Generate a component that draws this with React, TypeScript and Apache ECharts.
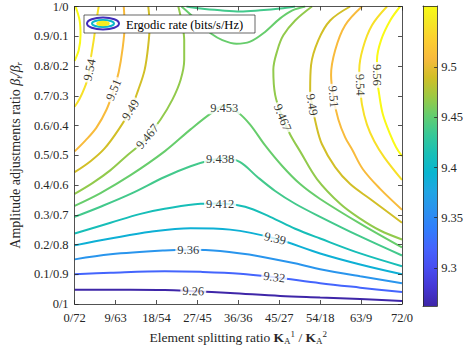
import React, { useEffect, useRef } from 'react';
import * as echarts from 'echarts';

// ---------- data (x = K_A^1 in 0..72, K_A^2 = 72 - x ; y = beta_t in 0..1) ----------
const xTicks = [0, 9, 18, 27, 36, 45, 54, 63, 72];
const yTicks = [0, 0.1, 0.2, 0.3, 0.4, 0.5, 0.6, 0.7, 0.8, 0.9, 1];
const colorbarTicks = [9.3, 9.35, 9.4, 9.45, 9.5];
const colorRange = [9.262, 9.561];

const c926 = [[0, 0.048], [12.3, 0.048], [19.8, 0.047], [26.1, 0.043], [34.2, 0.037], [45.2, 0.027], [54, 0.022], [62.8, 0.017], [72, 0.01]];
const c932 = [[0, 0.1], [7.9, 0.105], [19.8, 0.11], [27.7, 0.108], [36.4, 0.102], [43.9, 0.09], [54, 0.07], [62.8, 0.055], [72, 0.04]];
const c936 = [[0, 0.15], [7.9, 0.167], [19.8, 0.18], [25, 0.182], [32, 0.178], [40.8, 0.16], [49.6, 0.133], [54, 0.117], [62.8, 0.093], [72, 0.07]];
const c939 = [[0, 0.197], [7.9, 0.22], [16.7, 0.243], [25.5, 0.255], [34.2, 0.25], [44.1, 0.22], [54, 0.17], [62.8, 0.133], [72, 0.1]];
const c9412 = [[0, 0.237], [7.9, 0.273], [14.5, 0.303], [19.8, 0.32], [27.7, 0.337], [32, 0.338], [37.5, 0.327], [43, 0.293], [48.5, 0.253], [54, 0.22], [62.8, 0.17], [72, 0.127]];
const c9438 = [[0, 0.293], [5.7, 0.327], [12.3, 0.37], [19.8, 0.427], [25.5, 0.463], [29.9, 0.483], [32.9, 0.49], [36.4, 0.477], [40.2, 0.427], [44.1, 0.38], [48.5, 0.337], [54, 0.293], [62.8, 0.227], [72, 0.163]];
const c9438top = [[24.6, 1], [27.7, 0.993], [32, 0.987], [36.4, 0.983], [40.8, 0.987], [45.2, 0.993], [48.5, 1]];
const c9453 = [[0, 0.33], [5.7, 0.373], [12.3, 0.433], [19.8, 0.513], [25.5, 0.587], [29.9, 0.64], [32.9, 0.667], [36, 0.643], [38.6, 0.603], [41.9, 0.533], [45.7, 0.463], [49.6, 0.403], [54, 0.353], [62.8, 0.27], [72, 0.19]];
const c9453top = [[23.5, 1], [25.5, 0.973], [27.7, 0.94], [29.9, 0.91], [32.5, 0.887], [35.6, 0.875], [38.6, 0.882], [41.5, 0.91], [45.2, 0.96], [47.9, 0.987], [50.7, 1]];
const c9467L = [[0, 0.37], [4, 0.407], [7.9, 0.45], [11.6, 0.5], [14.5, 0.537], [16, 0.563], [18.9, 0.62], [21.5, 0.687], [23.3, 0.753], [24.1, 0.82], [24.1, 0.887], [23.5, 0.953], [22.8, 1]];
const c9467R = [[52.2, 1], [48.5, 0.953], [45.9, 0.903], [44.6, 0.853], [43.7, 0.787], [44.1, 0.703], [45.7, 0.627], [47.4, 0.57], [49.6, 0.513], [53.3, 0.42], [58.4, 0.337], [62.8, 0.287], [67.2, 0.247], [72, 0.217]];
const c949L = [[16.2, 1], [16.5, 0.937], [16.2, 0.87], [15.4, 0.787], [14, 0.72], [12.3, 0.653], [9.7, 0.587], [6.6, 0.523], [3.5, 0.48], [0, 0.443]];
const c949R = [[60.6, 1], [56.2, 0.953], [53.6, 0.887], [52, 0.803], [51.8, 0.72], [52.2, 0.67], [53.1, 0.603], [54.4, 0.537], [57.3, 0.46], [60.6, 0.403], [65, 0.353], [72, 0.273]];
const c951L = [[10.8, 1], [11, 0.937], [10.5, 0.853], [9.7, 0.78], [8.6, 0.72], [7, 0.653], [4.8, 0.593], [2.4, 0.55], [0, 0.513]];
const c951R = [[63.2, 1], [59.5, 0.937], [57.3, 0.853], [56.4, 0.77], [56.9, 0.697], [58, 0.62], [59.5, 0.56], [61, 0.52], [63.4, 0.453], [67.2, 0.387], [72, 0.317]];
const c954L = [[5.3, 1], [4.8, 0.953], [4.2, 0.887], [3.5, 0.82], [3.1, 0.77], [2.2, 0.727], [1.1, 0.69], [0, 0.663]];
const c954R = [[68.7, 1], [65.4, 0.937], [63.4, 0.86], [62.6, 0.787], [62.8, 0.737], [63.2, 0.67], [64.3, 0.603], [65.9, 0.547], [68.1, 0.493], [72, 0.417]];
const c956L = [[0.2, 1], [1.1, 0.953], [1.3, 0.903], [0.9, 0.853], [0, 0.817]];
const c956R = [[71.6, 1], [69.4, 0.953], [67.4, 0.887], [66.5, 0.82], [66.5, 0.77], [67, 0.703], [67.8, 0.637], [69.4, 0.57], [70.7, 0.527], [72, 0.497]];

const contourLevels = [9.26, 9.32, 9.36, 9.39, 9.412, 9.438, 9.438, 9.453, 9.453, 9.467, 9.467, 9.49, 9.49, 9.51, 9.51, 9.54, 9.54, 9.56, 9.56];
const contourLines = [c926, c932, c936, c939, c9412, c9438, c9438top, c9453, c9453top, c9467L, c9467R, c949L, c949R, c951L, c951R, c954L, c954R, c956L, c956R];

const labelTexts = ['9.26', '9.32', '9.36', '9.39', '9.412', '9.438', '9.453', '9.467', '9.49', '9.51', '9.54', '9.467', '9.49', '9.51', '9.54', '9.56'];
const labelPoints = [[26.1, 0.043], [43.9, 0.09], [25, 0.18], [44.1, 0.22], [32, 0.337], [32, 0.487], [32.9, 0.66], [16, 0.563], [12.3, 0.653], [8.6, 0.72], [3.3, 0.787], [45.7, 0.627], [52.2, 0.67], [56.9, 0.697], [62.8, 0.737], [66.5, 0.77]];
const labelAngles = [-2, -7, 0, -13, 0, 0, 0, 50, 58, 68, 78, -68, -80, -85, -88, -90];

// parula colormap (MATLAB), samples at t = (idx-1)/63
const parulaIdx = [1, 5, 9, 13, 17, 21, 25, 29, 33, 37, 41, 45, 49, 53, 57, 61, 64];
const parulaRGB = [
  [0.2422, 0.1504, 0.6603], [0.2706, 0.2147, 0.8364], [0.2813, 0.3006, 0.9414], [0.2699, 0.3892, 0.9906],
  [0.1963, 0.4847, 0.9892], [0.1687, 0.5703, 0.9359], [0.1248, 0.6459, 0.8883], [0.0297, 0.7082, 0.8163],
  [0.0964, 0.75, 0.712], [0.2161, 0.7843, 0.5923], [0.3909, 0.8029, 0.4354], [0.6174, 0.7876, 0.2612],
  [0.8203, 0.7498, 0.1535], [0.9728, 0.7298, 0.2394], [0.9892, 0.8136, 0.1885], [0.9597, 0.9135, 0.1423],
  [0.9769, 0.9839, 0.0805],
];

const FONT = "'Liberation Serif', 'DejaVu Serif', serif";
const AX = '#262626';

function rgbStr(c: number[]) {
  return `rgb(${Math.round(c[0] * 255)},${Math.round(c[1] * 255)},${Math.round(c[2] * 255)})`;
}
function parula(t: number) {
  const tt = Math.max(0, Math.min(1, t));
  const ts = parulaIdx.map((i) => (i - 1) / 63);
  for (let i = 0; i < ts.length - 1; i++) {
    if (tt <= ts[i + 1]) {
      const f = (tt - ts[i]) / (ts[i + 1] - ts[i]);
      const a = parulaRGB[i], b = parulaRGB[i + 1];
      return rgbStr([a[0] + (b[0] - a[0]) * f, a[1] + (b[1] - a[1]) * f, a[2] + (b[2] - a[2]) * f]);
    }
  }
  return rgbStr(parulaRGB[parulaRGB.length - 1]);
}
function levelColor(v: number) {
  return parula((v - colorRange[0]) / (colorRange[1] - colorRange[0]));
}

export default function App() {
  const ref = useRef<HTMLDivElement>(null);
  useEffect(() => {
    if (!ref.current) return;
    const chart = echarts.init(ref.current, undefined, { renderer: 'svg' });
    const ts = parulaIdx.map((i) => (i - 1) / 63);
    const stops = ts.map((t, i) => ({ offset: 1 - t, color: rgbStr(parulaRGB[i]) })).reverse();

    const lineSeries = contourLines.map((pts, i) => ({
      type: 'line',
      xAxisIndex: 0,
      yAxisIndex: 0,
      data: pts,
      smooth: 0.35,
      symbol: 'none',
      silent: true,
      lineStyle: { width: 2, color: levelColor(contourLevels[i]) },
      z: 3,
    }));

    const axLine = () => ({ show: true, onZero: false, lineStyle: { color: AX, width: 0.8 } });
    const axTick = () => ({ show: true, inside: true, length: 4, lineStyle: { color: AX, width: 0.8 } });

    chart.setOption({
      animation: false,
      backgroundColor: '#fff',
      grid: [
        { left: 74, right: 64, top: 6, bottom: 44 },
        { left: 423, right: 22, top: 6, bottom: 44 },
      ],
      xAxis: [
        {
          type: 'value', gridIndex: 0, min: xTicks[0], max: xTicks[xTicks.length - 1], interval: 9, position: 'bottom', z: 6,
          axisLine: axLine(), axisTick: axTick(), splitLine: { show: false },
          axisLabel: { fontFamily: FONT, fontSize: 12.5, color: AX, margin: 7, formatter: (v: number) => `${v}/${72 - v}` },
          name: 'Element splitting ratio {b|K}{sub|A}{sup|1} / {b|K}{sub|A}{sup|2}',
          nameLocation: 'middle', nameGap: 25,
          nameTextStyle: {
            fontFamily: FONT, fontSize: 13.5, color: AX,
            rich: {
              b: { fontFamily: FONT, fontSize: 13.5, fontWeight: 'bold', color: AX },
              sub: { fontFamily: FONT, fontSize: 9, color: AX, verticalAlign: 'bottom', padding: [7, 0, 0, 0] },
              sup: { fontFamily: FONT, fontSize: 9, color: AX, verticalAlign: 'top', padding: [0, 0, 7, 0] },
            },
          },
        },
        {
          type: 'value', gridIndex: 0, min: 0, max: 72, interval: 9, position: 'top', z: 6,
          axisLine: axLine(), axisTick: axTick(), splitLine: { show: false }, axisLabel: { show: false },
        },
        {
          type: 'category', gridIndex: 1, data: [''], position: 'bottom', z: 6,
          axisLine: axLine(), axisTick: { show: false }, axisLabel: { show: false },
        },
        {
          type: 'category', gridIndex: 1, data: [''], position: 'top', z: 6,
          axisLine: axLine(), axisTick: { show: false }, axisLabel: { show: false },
        },
      ],
      yAxis: [
        {
          type: 'value', gridIndex: 0, min: yTicks[0], max: yTicks[yTicks.length - 1], interval: 0.1, position: 'left', z: 6,
          axisLine: axLine(), axisTick: axTick(), splitLine: { show: false },
          axisLabel: {
            fontFamily: FONT, fontSize: 12.5, color: AX, margin: 6,
            formatter: (v: number) => `${Math.round(v * 10) / 10}/${Math.round((1 - v) * 10) / 10}`,
          },
          name: 'Amplitude adjustments ratio {i|β}{s|t}{i|/β}{s|r}',
          nameLocation: 'middle', nameGap: 44, nameRotate: 90,
          nameTextStyle: {
            fontFamily: FONT, fontSize: 14, color: AX,
            rich: {
              i: { fontFamily: FONT, fontSize: 14, fontStyle: 'italic', color: AX },
              s: { fontFamily: FONT, fontSize: 9, fontStyle: 'italic', color: AX, verticalAlign: 'bottom', padding: [7, 0, 0, 0] },
            },
          },
        },
        {
          type: 'value', gridIndex: 0, min: 0, max: 1, interval: 0.1, position: 'right', z: 6,
          axisLine: axLine(), axisTick: axTick(), splitLine: { show: false }, axisLabel: { show: false },
        },
        {
          type: 'value', gridIndex: 1, min: colorRange[0], max: colorRange[1], position: 'right', z: 6,
          axisLine: axLine(),
          axisTick: { show: true, inside: true, length: 3, customValues: colorbarTicks, lineStyle: { color: AX, width: 0.8 } },
          axisLabel: { show: true, customValues: colorbarTicks, fontFamily: FONT, fontSize: 12.5, color: AX, margin: 4, formatter: (v: number) => `${v}` },
          splitLine: { show: false },
        },
        {
          type: 'value', gridIndex: 1, min: colorRange[0], max: colorRange[1], position: 'left', z: 6,
          axisLine: axLine(), axisTick: { show: false }, axisLabel: { show: false }, splitLine: { show: false },
        },
      ],
      series: [
        ...lineSeries,
        {
          type: 'scatter',
          xAxisIndex: 0,
          yAxisIndex: 0,
          symbolSize: 1,
          itemStyle: { color: 'rgba(0,0,0,0)' },
          silent: true,
          z: 8,
          data: labelPoints.map((p, i) => ({ value: p, name: labelTexts[i], label: { rotate: labelAngles[i] } })),
          label: {
            show: true, position: 'inside', formatter: '{b}', fontFamily: FONT, fontSize: 12.5, color: '#000',
            backgroundColor: '#fff', padding: [0, 2],
          },
        },
        {
          type: 'bar',
          xAxisIndex: 2,
          yAxisIndex: 2,
          barWidth: '100%',
          silent: true,
          data: [colorRange[1]],
          itemStyle: { color: new echarts.graphic.LinearGradient(0, 0, 0, 1, stops) },
        },
      ],
      graphic: [
        { type: 'rect', shape: { x: 84, y: 15, width: 171, height: 18 }, style: { fill: '#fff', stroke: AX, lineWidth: 0.7 }, z: 20 },
        { type: 'ellipse', shape: { cx: 103, cy: 23.5, rx: 16, ry: 6 }, style: { fill: 'none', stroke: levelColor(9.27), lineWidth: 2 }, z: 21 },
        { type: 'ellipse', shape: { cx: 103, cy: 23.5, rx: 11, ry: 3.6 }, style: { fill: 'none', stroke: levelColor(9.4), lineWidth: 2 }, z: 21 },
        { type: 'ellipse', shape: { cx: 103, cy: 23.5, rx: 6, ry: 2 }, style: { fill: levelColor(9.55), stroke: levelColor(9.55), lineWidth: 1.5 }, z: 21 },
        {
          type: 'text', x: 126, y: 24.5, z: 21,
          style: { text: 'Ergodic rate (bits/s/Hz)', font: `12.5px ${FONT}`, fill: '#000', verticalAlign: 'middle' },
        },
      ],
    });
    return () => chart.dispose();
  }, []);
  return <div ref={ref} style={{ width: 466, height: 350, position: 'absolute', left: 0, top: 0 }} />;
}
